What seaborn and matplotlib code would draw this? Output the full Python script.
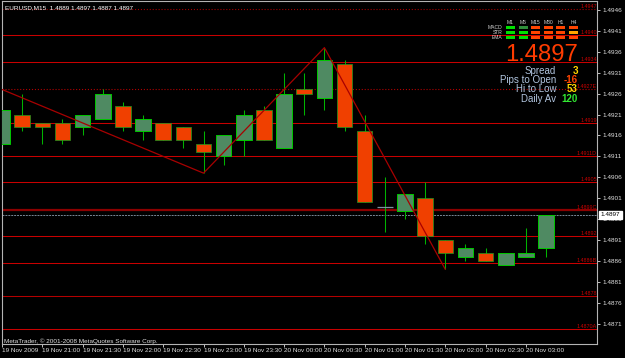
import matplotlib
matplotlib.use("Agg")
import matplotlib.pyplot as plt
import matplotlib.transforms as mtransforms
import numpy as np
import pandas as pd
import seaborn as sns

# ---------------- data ----------------
bar_times = ["19 Nov 20:30", "19 Nov 20:45", "19 Nov 21:00", "19 Nov 21:15", "19 Nov 21:30",
             "19 Nov 21:45", "19 Nov 22:00", "19 Nov 22:15", "19 Nov 22:30", "19 Nov 22:45",
             "19 Nov 23:00", "19 Nov 23:15", "19 Nov 23:30", "19 Nov 23:45", "20 Nov 00:00",
             "20 Nov 00:15", "20 Nov 00:30", "20 Nov 00:45", "20 Nov 01:00", "20 Nov 01:15",
             "20 Nov 01:30", "20 Nov 01:45", "20 Nov 02:00", "20 Nov 02:15", "20 Nov 02:30",
             "20 Nov 02:45", "20 Nov 03:00", "20 Nov 03:15"]
opens = [1.4914, 1.4921, 1.4919, 1.4919, 1.4918, 1.4920, 1.4923, 1.4917, 1.4919, 1.4918,
         1.4914, 1.4911, 1.4915, 1.4922, 1.4913, 1.4927, 1.4925, 1.4933, 1.4917, 1.4899,
         1.4898, 1.4901, 1.4891, 1.4887, 1.4888, 1.4885, 1.4887, 1.4889]
highs = [1.4927, 1.4926, 1.4919, 1.4920, 1.4921, 1.4927, 1.4924, 1.4921, 1.4919, 1.4918,
         1.4917, 1.4916, 1.4922, 1.4923, 1.4931, 1.4931, 1.4937, 1.4934, 1.4921, 1.4906,
         1.4902, 1.4905, 1.4891, 1.4890, 1.4889, 1.4888, 1.4894, 1.4897]
lows = [1.4912, 1.4917, 1.4914, 1.4914, 1.4916, 1.4920, 1.4917, 1.4915, 1.4915, 1.4913,
        1.4907, 1.4909, 1.4911, 1.4915, 1.4913, 1.4921, 1.4922, 1.4917, 1.4900, 1.4893,
        1.4896, 1.4890, 1.4884, 1.4886, 1.4886, 1.4885, 1.4887, 1.4887]
closes = [1.4922, 1.4918, 1.4918, 1.4915, 1.4921, 1.4926, 1.4918, 1.4920, 1.4915, 1.4915,
          1.4912, 1.4916, 1.4921, 1.4915, 1.4926, 1.4926, 1.4934, 1.4918, 1.4900, 1.4899,
          1.4902, 1.4892, 1.4888, 1.4889, 1.4886, 1.4888, 1.4888, 1.4897]

zigzag_bars = [0, 10, 16, 22]
zigzag_prices = [1.4927, 1.4907, 1.4937, 1.4884]

level_prices = [1.49462, 1.4940, 1.49335, 1.4927, 1.4919, 1.49112,
                1.49048, 1.48983, 1.4892, 1.48855, 1.48776, 1.48697]
level_labels = ["1.4947", "1.4940", "1.4934", "1.4927E", "1.4919", "1.4911D",
                "1.4905", "1.4899C", "1.4892", "1.4886B", "1.4878", "1.4870A"]

current_price = 1.4897
price_ticks = [1.4946, 1.4941, 1.4936, 1.4931, 1.4926, 1.4921, 1.4916, 1.4911,
               1.4906, 1.4901, 1.4896, 1.4891, 1.4886, 1.4881, 1.4876, 1.4871]
time_tick_bars = [0, 2, 4, 6, 8, 10, 12, 14, 16, 18, 20, 22, 24, 26]
time_tick_labels = ["19 Nov 2009", "19 Nov 21:00", "19 Nov 21:30", "19 Nov 22:00",
                    "19 Nov 22:30", "19 Nov 23:00", "19 Nov 23:30", "20 Nov 00:00",
                    "20 Nov 00:30", "20 Nov 01:00", "20 Nov 01:30", "20 Nov 02:00",
                    "20 Nov 02:30", "20 Nov 03:00"]

title_text = "EURUSD,M15  1.4889 1.4897 1.4887 1.4897"
copyright_text = "MetaTrader, \u00a9 2001-2008 MetaQuotes Software Corp."

panel_rows = ["MACD", "STR", "EMA"]
panel_cols = ["M1", "M5", "M15", "M30", "H1", "H4"]
panel_states = [["up", "weak", "down", "down", "down", "down"],
                ["up", "up", "down", "down", "down", "flat"],
                ["up", "up", "down", "down", "down", "down"]]

big_price_text = "1.4897"
info_labels = ["Spread", "Pips to Open", "Hi to Low", "Daily Av"]
info_values = ["3", "-16", "53", "120"]

# ---------------- styles ----------------
W, H = 625, 358
def fx(px):
    return px / W
def fy(py):
    return 1 - py / H

sns.set_theme(style="dark", rc={"axes.facecolor": "black", "figure.facecolor": "black",
                                "savefig.facecolor": "black", "axes.grid": False})
plt.rcParams["font.family"] = ["Liberation Sans", "DejaVu Sans"]

level_styles = [(":", "#a00000", 0.8), ("-", "#c80000", 0.75), ("-", "#c80000", 0.75),
                (":", "#b00000", 0.8), ("-", "#c80000", 0.75), ("-", "#c80000", 0.75),
                ("-", "#c80000", 0.75), ("-", "#8c0000", 1.6), ("-", "#c80000", 0.75),
                ("-", "#c80000", 0.75), ("-", "#b40000", 0.75), ("-", "#c80000", 0.75)]
state_colors = {"up": "#00e000", "weak": "#2f8f3a", "down": "#ff4500", "flat": "#ffa500"}
info_colors = ["#ffd700", "#ff4500", "#ffd700", "#32e632"]

small = 4.6

df = pd.DataFrame({"time": bar_times, "open": opens, "high": highs, "low": lows, "close": closes})
df["i"] = np.arange(len(df))
df["bull"] = df["close"] >= df["open"]
df["bottom"] = df[["open", "close"]].min(axis=1)
df["height"] = (df["close"] - df["open"]).abs()

fig = plt.figure(figsize=(W / 100, H / 100), dpi=100)
ax = fig.add_axes([fx(2), 14 / H, 595 / W, 343 / H])
ax.set_facecolor("black")
blend = mtransforms.blended_transform_factory(ax.transAxes, ax.transData)

# levels
for p, lab, (ls, col, lw) in zip(level_prices, level_labels, level_styles):
    ax.axhline(p, color=col, lw=lw, ls=ls, zorder=1)
    ax.text(0.9995, p, lab, transform=blend,
            ha="right", va="bottom", fontsize=3.9, color="#c80000", zorder=1)
ax.axhline(current_price, color="#7a8896", lw=0.7, ls=(0, (2, 1)), zorder=1)

# wicks
ax.vlines(df["i"], df["low"], df["high"], color="#00b400", lw=0.75, zorder=2)

# bodies
body_w = 0.77
nz = df[df["height"] > 0]
bull = nz[nz["bull"]]
bear = nz[~nz["bull"]]
ax.bar(bull["i"], bull["height"], bottom=bull["bottom"], width=body_w,
       color="#4f8a62", edgecolor="#00c800", linewidth=0.7, zorder=3)
ax.bar(bear["i"], bear["height"], bottom=bear["bottom"], width=body_w,
       color="#f04000", edgecolor="#1f9a1f", linewidth=0.5, zorder=3)
doji = df[df["height"] == 0]
ax.hlines(doji["close"], doji["i"] - body_w / 2, doji["i"] + body_w / 2, color="#7f93a0", lw=0.9, zorder=3)

# zigzag
sns.lineplot(x=zigzag_bars, y=zigzag_prices, sort=False, estimator=None, color="#a80000",
             lw=0.9, ax=ax, zorder=4)

ax.set_xlim(0, 595 / 20.15)
ax.set_ylim(1.4946 - 334 / 41830, 1.4946 + 9 / 41830)

# axes
ax.yaxis.tick_right()
ax.set_yticks(price_ticks)
ax.set_yticklabels([f"{t:.4f}" for t in price_ticks])
ax.set_xticks(time_tick_bars)
ax.set_xticklabels(time_tick_labels)
for t in ax.get_xticklabels():
    t.set_ha("left")
ax.tick_params(axis="y", colors="#e0e0e0", labelsize=small, length=2, width=0.6, pad=2.2,
               left=False, right=True)
ax.tick_params(axis="x", colors="#e0e0e0", labelsize=small, length=2, width=0.6, pad=0.8,
               bottom=True)
for s in ax.spines.values():
    s.set_visible(True)
    s.set_color("#b4b4b4")
    s.set_linewidth(0.8)
ax.set_xlabel("")
ax.set_ylabel("")

# current price tag
ax.text(1.0 + 3.5 / 595, current_price, f"{current_price:.4f}", transform=blend,
        ha="left", va="center", fontsize=small, color="black", clip_on=False,
        bbox=dict(boxstyle="square,pad=0.25", fc="white", ec="white"))

# title and copyright
fig.text(fx(5), fy(9), title_text, ha="left", va="baseline", fontsize=small, color="white")
fig.text(fx(4), fy(342.5), copyright_text, ha="left", va="baseline", fontsize=small, color="#e0e0e0")

# indicator panel
pax = fig.add_axes([fx(504.2), fy(40), 75.6 / W, 15 / H])
pax.set_xlim(-0.5, 5.5)
pax.set_ylim(2.5, -0.5)
pax.axis("off")
for r, row in enumerate(panel_states):
    for c, st in enumerate(row):
        pax.bar(c, 0.72, bottom=r - 0.36, width=0.72, color=state_colors[st], linewidth=0)
for c, name in enumerate(panel_cols):
    pax.text(c, -0.95, name, ha="center", va="center", fontsize=3.6, color="#d0d0d0", clip_on=False)
for r, name in enumerate(panel_rows):
    pax.text(-0.66, r, name, ha="right", va="center", fontsize=3.6, color="#d0d0d0", clip_on=False)

# big price + info
fig.text(fx(578), fy(61), big_price_text, ha="right", va="baseline", fontsize=17.2, color="#ff3c00")
baselines = [73.5, 83, 92.5, 102]
for lab, val, col, b in zip(info_labels, info_values, info_colors, baselines):
    fig.text(fx(556), fy(b), lab, ha="right", va="baseline", fontsize=7.0, color="#b0c4de")
    fig.text(fx(578), fy(b), val, ha="right", va="baseline", fontsize=7.0, color=col, fontweight="bold")

fig.savefig("out.png", dpi=100, facecolor="black")
